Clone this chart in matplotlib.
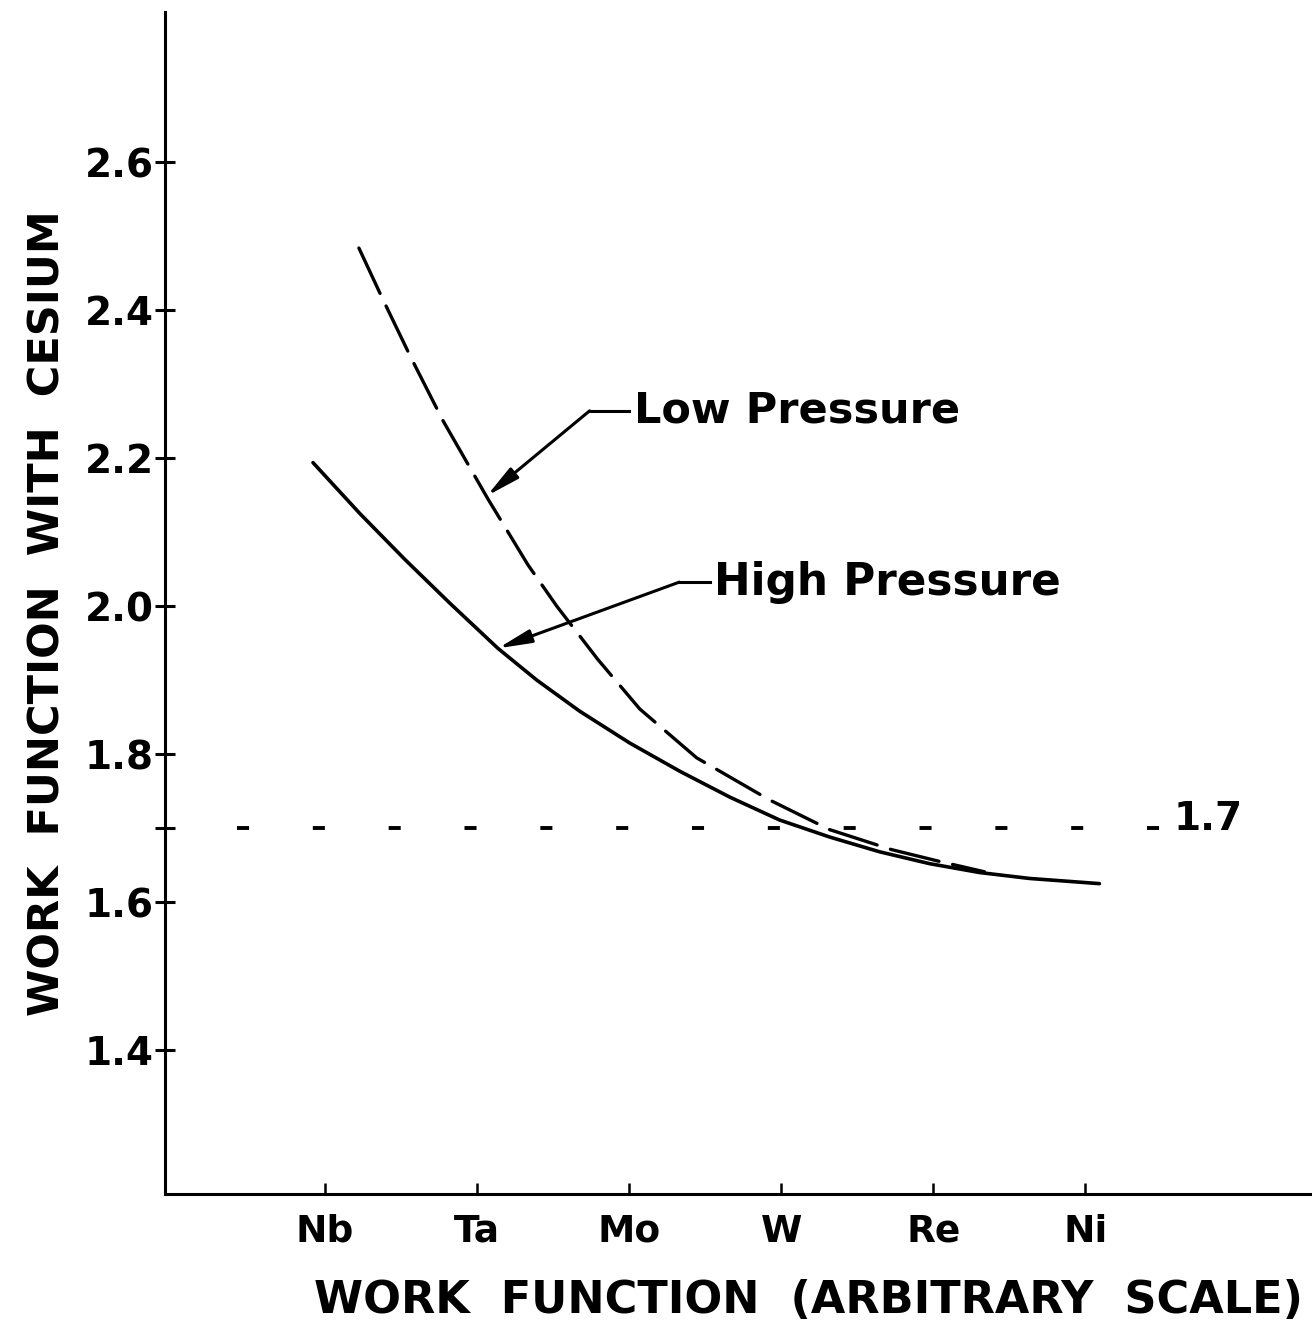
import matplotlib
matplotlib.use("Agg")
import matplotlib.pyplot as plt

# ---- data ----
elements = ["Nb", "Ta", "Mo", "W", "Re", "Ni"]
element_pos = [1, 2, 3, 4, 5, 6]
y_ticks = [1.4, 1.6, 1.8, 2.0, 2.2, 2.4, 2.6]
y_tick_labels = ["1.4", "1.6", "1.8", "2.0", "2.2", "2.4", "2.6"]

high_x = [0.921, 1.230, 1.526, 1.821, 2.137, 2.393, 2.675, 3.004, 3.332, 3.661,
          3.989, 4.318, 4.647, 4.975, 5.304, 5.632, 6.092]
high_y = [2.194, 2.125, 2.063, 2.004, 1.943, 1.900, 1.858, 1.815, 1.777, 1.742,
          1.711, 1.688, 1.668, 1.652, 1.640, 1.632, 1.625]

low_x = [1.223, 1.375, 1.565, 1.775, 2.071, 2.334, 2.524, 2.794, 3.070, 3.444,
         3.924, 4.318, 4.725, 5.041, 5.336]
low_y = [2.484, 2.417, 2.336, 2.251, 2.145, 2.056, 2.000, 1.928, 1.861, 1.795,
         1.738, 1.698, 1.671, 1.655, 1.641]

ref_level = 1.7
ref_x = [0.42, 6.50]

fig = plt.figure(figsize=(13.12, 13.36), dpi=100)
ax = fig.add_axes([0.126, 0.106, 0.874, 0.885])
ax.set_xlim(-0.05, 7.49)
ax.set_ylim(1.205, 2.803)

ax.plot(high_x, high_y, color="black", lw=2.6, solid_capstyle="round", solid_joinstyle="round")
ax.plot(low_x, low_y, color="black", lw=2.4, dashes=(15, 4.2), dash_capstyle="round",
        dash_joinstyle="round")
ax.plot(ref_x, [ref_level, ref_level], color="black", lw=2.8, dashes=(3.1, 16.4))
ax.text(6.58, ref_level + 0.012, "1.7", fontsize=28, fontweight="bold", va="center", ha="left")

for s in ["top", "right"]:
    ax.spines[s].set_visible(False)
ax.spines["left"].set_linewidth(2.2)
ax.spines["bottom"].set_linewidth(2.2)

ax.set_yticks(y_ticks + [ref_level])
ax.set_yticklabels(y_tick_labels + [""])
ax.set_xticks(element_pos)
ax.set_xticklabels(elements)
ax.tick_params(axis="y", direction="inout", length=15, width=2.2, labelsize=28, pad=1)
ax.tick_params(axis="x", direction="in", length=8, width=1.8, labelsize=27, pad=14)
for lab in ax.get_xticklabels() + ax.get_yticklabels():
    lab.set_fontweight("bold")

ax.set_xlabel("WORK  FUNCTION  (ARBITRARY  SCALE)", fontsize=32, fontweight="bold")
ax.xaxis.set_label_coords(0.5606, -0.0897)
ax.xaxis.label.set_va("center")
ax.set_ylabel("WORK  FUNCTION  WITH  CESIUM", fontsize=31, fontweight="bold")
ax.yaxis.set_label_coords(-0.103, 0.492)
ax.yaxis.label.set_va("center")

arrow = dict(arrowstyle="-|>,head_length=1.0,head_width=0.2", lw=2.2, color="black",
             mutation_scale=20, shrinkA=0, shrinkB=0)
# Low pressure label
ax.plot([2.74, 3.00], [2.264, 2.264], color="black", lw=2.2)
ax.annotate("", xy=(2.064, 2.149), xytext=(2.74, 2.264), arrowprops=arrow)
ax.text(3.03, 2.264, "Low Pressure", fontsize=31, fontweight="bold", va="center", ha="left")
# High pressure label
ax.plot([3.33, 3.53], [2.0325, 2.0325], color="black", lw=2.2)
ax.annotate("", xy=(2.137, 1.943), xytext=(3.33, 2.0325), arrowprops=arrow)
ax.text(3.56, 2.0325, "High Pressure", fontsize=31.5, fontweight="bold", va="center", ha="left")

fig.savefig("out.png", dpi=100)
